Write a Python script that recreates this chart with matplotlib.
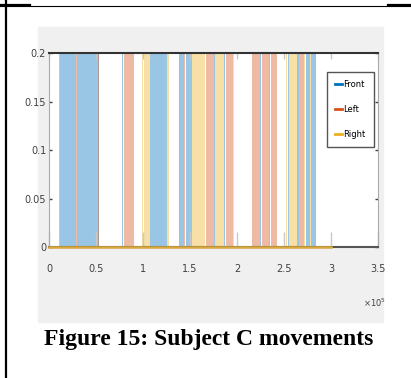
import numpy as np
import matplotlib.pyplot as plt
from matplotlib.lines import Line2D
from matplotlib.patches import Rectangle
from matplotlib.ticker import FuncFormatter

# movement windows (start, end) in samples; signal sits at 0.2 while active
front_spans = [(11700, 28700), (30300, 52700), (77700, 79000), (107400, 125200),
               (138600, 143600), (145700, 151800), (166600, 167400), (175500, 176400),
               (186100, 187000), (214400, 215300), (224600, 225500), (234200, 235100),
               (254300, 255200), (264100, 266300), (273400, 277700), (279000, 283700)]
left_spans = [(10400, 11200), (29000, 29800), (35800, 36600), (52400, 53200),
              (63400, 64200), (80100, 90100), (143600, 144400), (167500, 175500),
              (188000, 195500), (216300, 224500), (226300, 234000), (235800, 242200),
              (266300, 271300)]
right_spans = [(99300, 100100), (101000, 107400), (113400, 114200), (119500, 120300),
               (125200, 128000), (151800, 165900), (176900, 186500), (195700, 196500),
               (252500, 253300), (255600, 263500), (271200, 272000), (277700, 278800)]
level = 0.2
n_samples = 300000

labels = ['Front', 'Left', 'Right']
colors = ['#0072BD', '#D95319', '#EDB120']
x_ticks = [0, 50000, 100000, 150000, 200000, 250000, 300000, 350000]
y_ticks = [0, 0.05, 0.1, 0.15, 0.2]

fig = plt.figure(figsize=(4.11, 3.78), dpi=100)
W, H = 411.0, 378.0

# table cell lines and grey figure panel
fig.add_artist(Line2D([6 / W, 6 / W], [0, 1], color='black', lw=1.6))
fig.add_artist(Line2D([0, 1], [1 - 5.5 / H] * 2, color='black', lw=0.8))
fig.add_artist(Line2D([0, 30 / W], [1 - 5 / H] * 2, color='black', lw=1.6))
fig.add_artist(Line2D([388 / W, 1], [1 - 5 / H] * 2, color='black', lw=1.6))
fig.add_artist(Rectangle((38 / W, 1 - 322 / H), 345 / W, 295 / H,
                         transform=fig.transFigure, color='#f0f0f0', zorder=0))

ax = fig.add_axes([49 / W, 1 - 247 / H, 329 / W, 194 / H])
ax.set_facecolor('white')

for spans, c in zip([front_spans, left_spans, right_spans], colors):
    starts = np.array([s for s, e in spans])
    widths = np.array([e - s for s, e in spans])
    ax.bar(starts, level, width=widths, align='edge', color=c, alpha=0.4, lw=0)

# zero baseline of the signals (last series drawn on top)
ax.plot([0, n_samples], [0, 0], color='#d9a83a', lw=1.8, clip_on=False, zorder=5)

ax.set_xlim(0, 350000)
ax.set_ylim(0, 0.2)
ax.set_xticks(x_ticks)
ax.set_yticks(y_ticks)
ax.xaxis.set_major_formatter(FuncFormatter(lambda v, p: '%g' % (v / 1e5)))
ax.yaxis.set_major_formatter(FuncFormatter(lambda v, p: '%g' % v))

ax.tick_params(axis='x', direction='in', length=11, width=1, color='#c8c8c8',
               pad=12, labelsize=7, labelcolor='#404040', top=True)
ax.tick_params(axis='y', direction='in', length=2.5, width=1, color='#404040',
               pad=2, labelsize=7, labelcolor='#404040', right=True)
for t in ax.xaxis.get_major_ticks():
    t.tick2line.set_markersize(4)

ax.spines['top'].set_color('#333333')
ax.spines['top'].set_linewidth(1.5)
ax.spines['bottom'].set_color('#555555')
ax.spines['bottom'].set_linewidth(1.5)
ax.spines['left'].set_color('#aaaaaa')
ax.spines['right'].set_color('#aaaaaa')

ax.text(0.99, -0.29, r'$\times10^5$', transform=ax.transAxes, fontsize=6,
        color='#404040', ha='center', va='center')

handles = [Line2D([], [], color=c, lw=2) for c in colors]
leg = ax.legend(handles, labels, loc='upper right', bbox_to_anchor=(0.988, 0.902),
                fontsize=6, handlelength=0.8, handletextpad=0.2, labelspacing=1.9,
                borderpad=1.0, borderaxespad=0, fancybox=False, framealpha=1,
                edgecolor='#555555')
leg.get_frame().set_linewidth(1)

fig.text(209 / W, 1 - 339 / H, 'Figure 15: Subject C movements', ha='center',
         va='center', fontsize=17, fontweight='bold', family='Liberation Serif')

fig.savefig('out.png', dpi=100)
